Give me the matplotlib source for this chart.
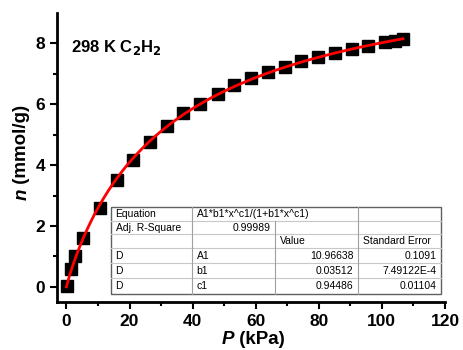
import numpy as np
import matplotlib.pyplot as plt

plt.rcParams['font.family'] = ['Liberation Sans', 'DejaVu Sans']

# --- data ---
p_kpa = [0.3, 1.5, 2.8, 5.4, 10.5, 16.0, 21.2, 26.6, 32.0, 37.0, 42.4, 48.1,
         53.2, 58.6, 64.0, 69.3, 74.4, 79.8, 85.2, 90.6, 95.6, 101.0, 104.2, 106.7]
n_mmol = [0.03, 0.60, 1.00, 1.60, 2.60, 3.52, 4.18, 4.77, 5.27, 5.70, 6.02, 6.35,
          6.62, 6.85, 7.05, 7.24, 7.41, 7.54, 7.70, 7.80, 7.90, 8.03, 8.07, 8.13]

# fit parameters (Langmuir-Freundlich)
A1, b1, c1 = 10.96638, 0.03512, 0.94486
fit_rows = [["Equation", "A1*b1*x^c1/(1+b1*x^c1)", "", ""],
            ["Adj. R-Square", "0.99989", "", ""],
            ["", "", "Value", "Standard Error"],
            ["D", "A1", "10.96638", "0.1091"],
            ["D", "b1", "0.03512", "7.49122E-4"],
            ["D", "c1", "0.94486", "0.01104"]]

x_ticks = [0, 20, 40, 60, 80, 100, 120]
y_ticks = [0, 2, 4, 6, 8]

fig = plt.figure(figsize=(4.63, 3.5), dpi=100)
ax = fig.add_axes([0.123, 0.137, 0.838, 0.826])

pf = np.linspace(0, max(p_kpa), 300)
nf = A1 * b1 * pf**c1 / (1 + b1 * pf**c1)
ax.plot(p_kpa, n_mmol, 's', color='black', ms=8, zorder=2)
ax.plot(pf, nf, '-', color='red', lw=2, zorder=3)

ax.set_xlim(-3, 120)
ax.set_ylim(-0.5, 9)
ax.set_xticks(x_ticks)
ax.set_yticks(y_ticks)
ax.set_xticks(np.arange(10, 120, 20), minor=True)
ax.set_yticks(np.arange(1, 9, 2), minor=True)
for s in ['top', 'right']:
    ax.spines[s].set_visible(False)
for s in ['left', 'bottom']:
    ax.spines[s].set_linewidth(2)
ax.tick_params(which='major', direction='out', length=5, width=1.5,
               labelsize=12.5)
ax.tick_params(which='minor', direction='out', length=3, width=1.5)
for lab in ax.get_xticklabels() + ax.get_yticklabels():
    lab.set_fontweight('bold')

# axis labels with italic symbol
fig.text(0.505, 0.03, 'P', fontsize=13.5, fontweight='bold', style='italic',
         ha='right', va='center')
fig.text(0.505, 0.03, ' (kPa)', fontsize=13.5, fontweight='bold', ha='left', va='center')
fig.text(0.047, 0.46, 'n', fontsize=13.5, fontweight='bold', style='italic',
         rotation=90, ha='center', va='top')
fig.text(0.047, 0.46, ' (mmol/g)', fontsize=13.5, fontweight='bold',
         rotation=90, ha='center', va='bottom')

ax.text(0.035, 0.88, r'298 K C$_\mathbf{2}$H$_\mathbf{2}$', transform=ax.transAxes,
        fontsize=12, fontweight='bold', va='center', ha='left')

# --- fit table ---
col_x = [0.139, 0.348, 0.562, 0.776, 0.990]
row_y = [0.329, 0.280, 0.235, 0.187, 0.135, 0.083, 0.028]
tr = ax.transAxes
light = '#c8c8c8'
for i in range(1, 6):
    ax.plot([col_x[0], col_x[-1]], [row_y[i]] * 2, color=light, lw=0.8, transform=tr)
for j in range(1, 4):
    y0 = row_y[-1]
    y1 = row_y[1] if j == 2 else row_y[0]
    ax.plot([col_x[j]] * 2, [y0, y1], color='#a0a0a0', lw=0.8, transform=tr)
ax.add_patch(plt.Rectangle((col_x[0], row_y[-1]), col_x[-1] - col_x[0],
                           row_y[0] - row_y[-1], transform=tr, fill=False,
                           edgecolor='#606060', lw=1))
for i, row in enumerate(fit_rows):
    yc = (row_y[i] + row_y[i + 1]) / 2
    for j, txt in enumerate(row):
        if not txt:
            continue
        right = (i >= 3 and j >= 2) or (i == 1 and j == 1)
        if right:
            ax.text(col_x[j + 1] - 0.012, yc, txt, transform=tr, fontsize=7.5,
                    ha='right', va='center')
        else:
            ax.text(col_x[j] + 0.012, yc, txt, transform=tr, fontsize=7.5,
                    ha='left', va='center')

fig.savefig('out.png', dpi=100)
